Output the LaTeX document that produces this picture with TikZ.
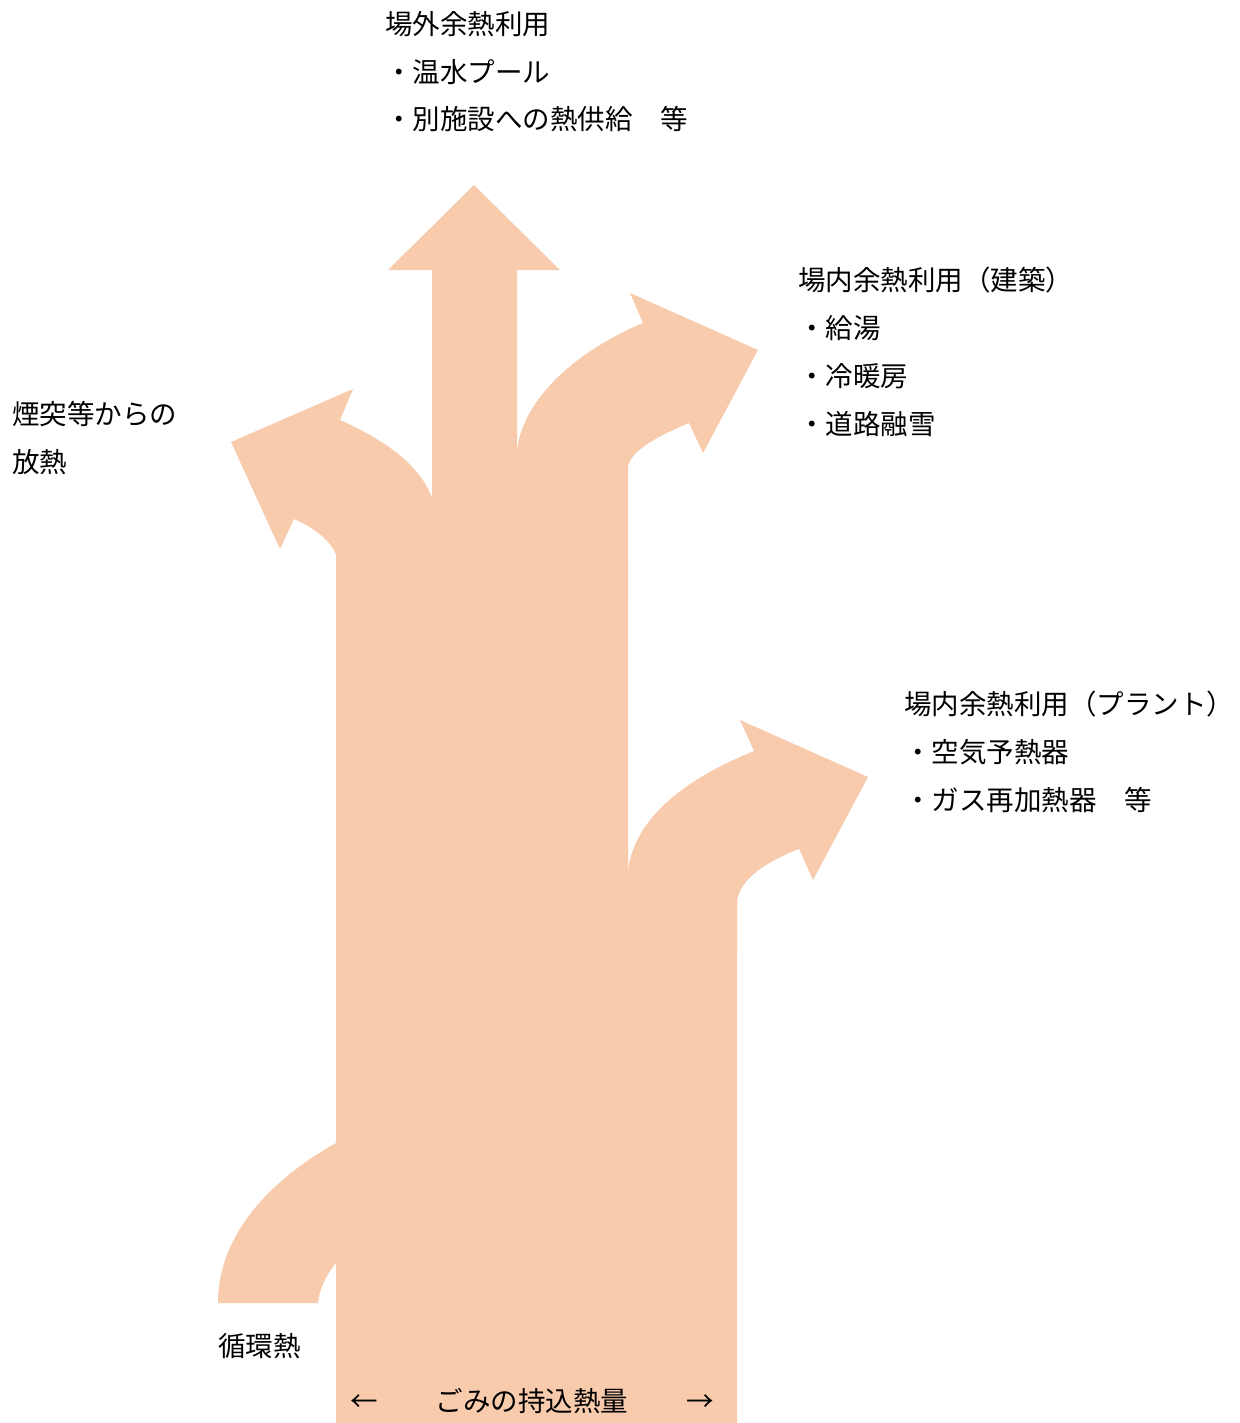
\documentclass[tikz,border=0pt]{standalone}
\usepackage{fontspec}
\setmainfont{Noto Sans CJK JP}
\definecolor{heat}{HTML}{F8CBAD}
\begin{document}
\begin{tikzpicture}[x=1pt,y=-1pt]
\tikzstyle{every node}=[anchor=west,inner sep=0pt,font=\fontsize{27.5}{33}\selectfont,text height=24pt,text depth=3.5pt];
\tikzstyle{flow}=[fill=heat,draw=none];
\useasboundingbox (0,0) rectangle (1239,1423);

% trunk
\path[flow] (336,1423) -- (737,1423) -- (737,902) -- (628,902) -- (628,560) -- (336,560) -- cycle;

% straight up
\path[flow] (432,600) -- (432,270) -- (388,270) -- (474,185) -- (560,270) -- (517,270) -- (517,600) -- cycle;

% left branch
\path[flow] (432,600) -- (432,498) .. controls (420,465) and (385,440) .. (340,420)
  -- (353,389) -- (231,442) -- (280,549) -- (294,519)
  .. controls (315,528) and (332,542) .. (336,555) -- (336,600) -- cycle;

% upper right branch
\path[flow] (517,600) -- (517,450) .. controls (525,390) and (590,345) .. (643,323)
  -- (630,293) -- (758,350) -- (703,453) -- (689,423)
  .. controls (655,437) and (630,452) .. (628,467) -- (628,600) -- cycle;

% lower right branch
\path[flow] (628,950) -- (628,870) .. controls (636,810) and (700,773) .. (754,751)
  -- (740,720) -- (868,777) -- (813,880) -- (799,849)
  .. controls (765,862) and (739,880) .. (737,902) -- (737,950) -- cycle;

% return flow
\path[flow] (218,1303) .. controls (218,1235) and (270,1180) .. (336,1143) -- (345,1143)
  -- (345,1263) -- (336,1263) .. controls (326,1275) and (319,1290) .. (318,1303) -- cycle;

% labels
\foreach \name/\x/\y/\txt in {out0/385/24/場外余熱利用, out1/385/72/・温水プール, out2/385/119/・別施設への熱供給　等,
  bld0/798/280/場内余熱利用（建築）, bld1/798/328/・給湯, bld2/798/376/・冷暖房, bld3/798/424/・道路融雪,
  chm0/12/414/煙突等からの, chm1/12/462/放熱,
  plt0/904/704/場内余熱利用（プラント）, plt1/904/752/・空気予熱器, plt2/904/800/・ガス再加熱器　等,
  rc/218/1346/循環熱}
  \node (\name) at (\x,\y) {\txt};

\node[anchor=center] (intxt) at (532,1401) {ごみの持込熱量};
\node[anchor=center] (inl) at (364,1401) {←};
\node[anchor=center] (inr) at (700,1401) {→};
\end{tikzpicture}
\end{document}
